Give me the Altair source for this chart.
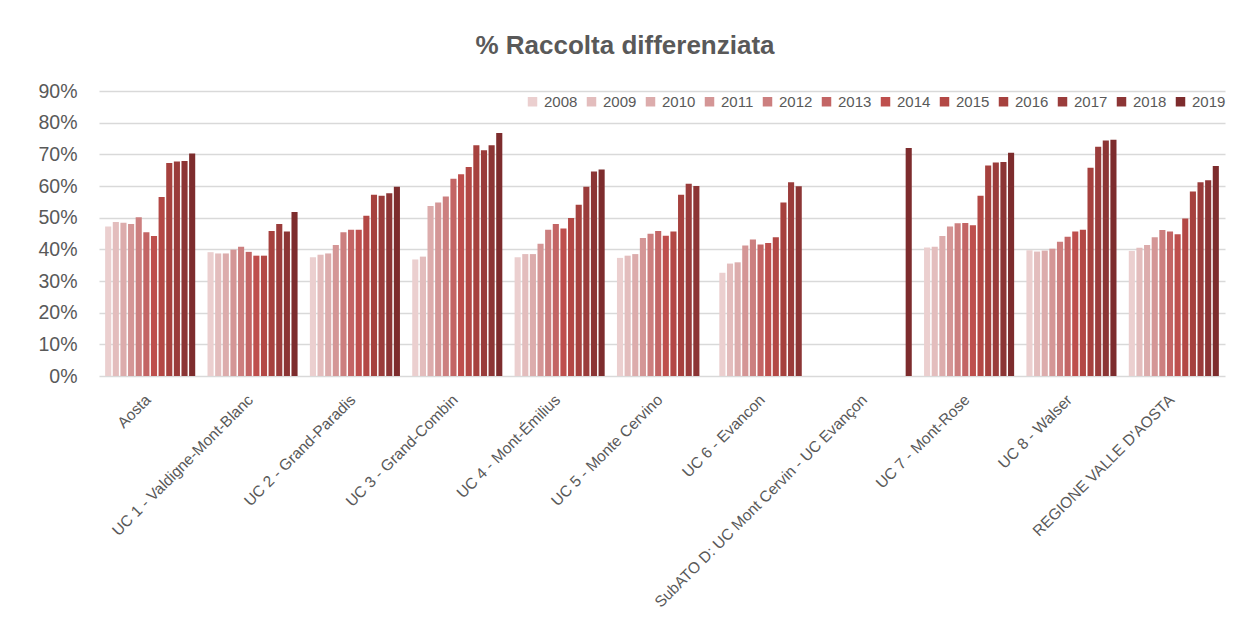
import altair as alt
import pandas as pd

years = ["2008", "2009", "2010", "2011", "2012", "2013",
         "2014", "2015", "2016", "2017", "2018", "2019"]

groups = [
    "Aosta",
    "UC 1 - Valdigne-Mont-Blanc",
    "UC 2 - Grand-Paradis",
    "UC 3 - Grand-Combin",
    "UC 4 - Mont-Émilius",
    "UC 5 - Monte Cervino",
    "UC 6 - Evancon",
    "SubATO D: UC Mont Cervin - UC Evançon",
    "UC 7 - Mont-Rose",
    "UC 8 - Walser",
    "REGIONE VALLE D'AOSTA",
]

# percentage values per area, 2008..2019 (None = no data)
aosta   = [47.2, 48.6, 48.4, 48.0, 50.1, 45.4, 44.2, 56.5, 67.3, 67.7, 67.9, 70.3]
uc1     = [39.1, 38.7, 38.7, 39.9, 40.8, 39.2, 38.0, 38.0, 45.8, 48.0, 45.6, 51.8]
uc2     = [37.5, 38.3, 38.7, 41.4, 45.4, 46.2, 46.2, 50.6, 57.2, 56.9, 57.7, 59.8]
uc3     = [36.8, 37.7, 53.7, 54.8, 56.7, 62.3, 63.7, 66.0, 72.9, 71.3, 72.9, 76.7]
uc4     = [37.5, 38.5, 38.5, 41.8, 46.2, 48.0, 46.6, 49.9, 54.1, 59.8, 64.6, 65.2]
uc5     = [37.3, 38.0, 38.5, 43.6, 44.9, 45.8, 44.3, 45.6, 57.2, 60.7, 60.0, None]
uc6     = [32.6, 35.5, 35.9, 41.2, 43.1, 41.5, 42.0, 43.8, 54.8, 61.2, 59.9, None]
subato  = [None, None, None, None, None, None, None, None, None, None, None, 72.0]
uc7     = [40.6, 40.8, 44.2, 47.2, 48.2, 48.3, 47.6, 56.9, 66.5, 67.4, 67.6, 70.5]
uc8     = [39.7, 39.3, 39.6, 40.2, 42.4, 44.0, 45.6, 46.2, 65.8, 72.4, 74.4, 74.6]
regione = [39.5, 40.5, 41.4, 43.8, 46.1, 45.6, 44.8, 49.7, 58.3, 61.2, 61.8, 66.3]

series = [aosta, uc1, uc2, uc3, uc4, uc5, uc6, subato, uc7, uc8, regione]

colors = ["#EBCFCF", "#E3BDBD", "#DCACAC", "#D49696", "#CC7F7F", "#C36565",
          "#BE4F4D", "#B34845", "#A6413E", "#9A3C3B", "#8C3535", "#7D2C2D"]

y_ticks = [0.0, 0.1, 0.2, 0.3, 0.4, 0.5, 0.6, 0.7, 0.8, 0.9]

rows = []
for g, vals in zip(groups, series):
    for yr, v in zip(years, vals):
        if v is not None:
            rows.append({"area": g, "year": yr, "value": v / 100.0})
df = pd.DataFrame(rows)

FONT = "Liberation Sans"
GREY = "#595959"

chart = alt.Chart(df).mark_bar().encode(
    x=alt.X(
        "area:N",
        sort=groups,
        scale=alt.Scale(domain=groups, paddingInner=0.12, paddingOuter=0.06),
        axis=alt.Axis(
            title=None, labelAngle=-45, labelFontSize=15.5, labelFont=FONT,
            labelColor=GREY, ticks=False, tickSize=0, domain=False, grid=False,
            labelPadding=16, labelOffset=-7, labelLimit=400,
        ),
    ),
    xOffset=alt.XOffset(
        "year:N", sort=years,
        scale=alt.Scale(domain=years, paddingInner=0.2, paddingOuter=0.0),
    ),
    y=alt.Y(
        "value:Q",
        scale=alt.Scale(domain=[0, 0.9], nice=False),
        axis=alt.Axis(
            title=None, format=".0%", values=y_ticks, labelFontSize=19.5,
            labelFont=FONT, labelColor=GREY, ticks=False, tickSize=0,
            domain=False, grid=True, gridColor="#D9D9D9", gridWidth=1.5,
            labelPadding=22,
        ),
    ),
    color=alt.Color(
        "year:N",
        scale=alt.Scale(domain=years, range=colors),
        legend=alt.Legend(
            title=None, orient="none", legendX=426, legendY=3, direction="horizontal",
            columns=12, symbolType="square", symbolSize=90, symbolStrokeWidth=0,
            labelFontSize=15, labelFont=FONT, labelColor=GREY, labelOffset=4,
            columnPadding=6, padding=0,
        ),
    ),
).properties(
    width=1126,
    height=285,
    background="white",
    title=alt.TitleParams(
        "% Raccolta differenziata", fontSize=26, fontWeight="bold", color=GREY,
        font=FONT, anchor="middle", dx=-37, offset=22,
    ),
    autosize=alt.AutoSizeParams(type="none"),
    padding={"left": 91, "top": 83, "right": 10, "bottom": 240},
).configure_view(stroke=None)

chart.save("out.html", embed_options={"renderer": "svg", "actions": False})
